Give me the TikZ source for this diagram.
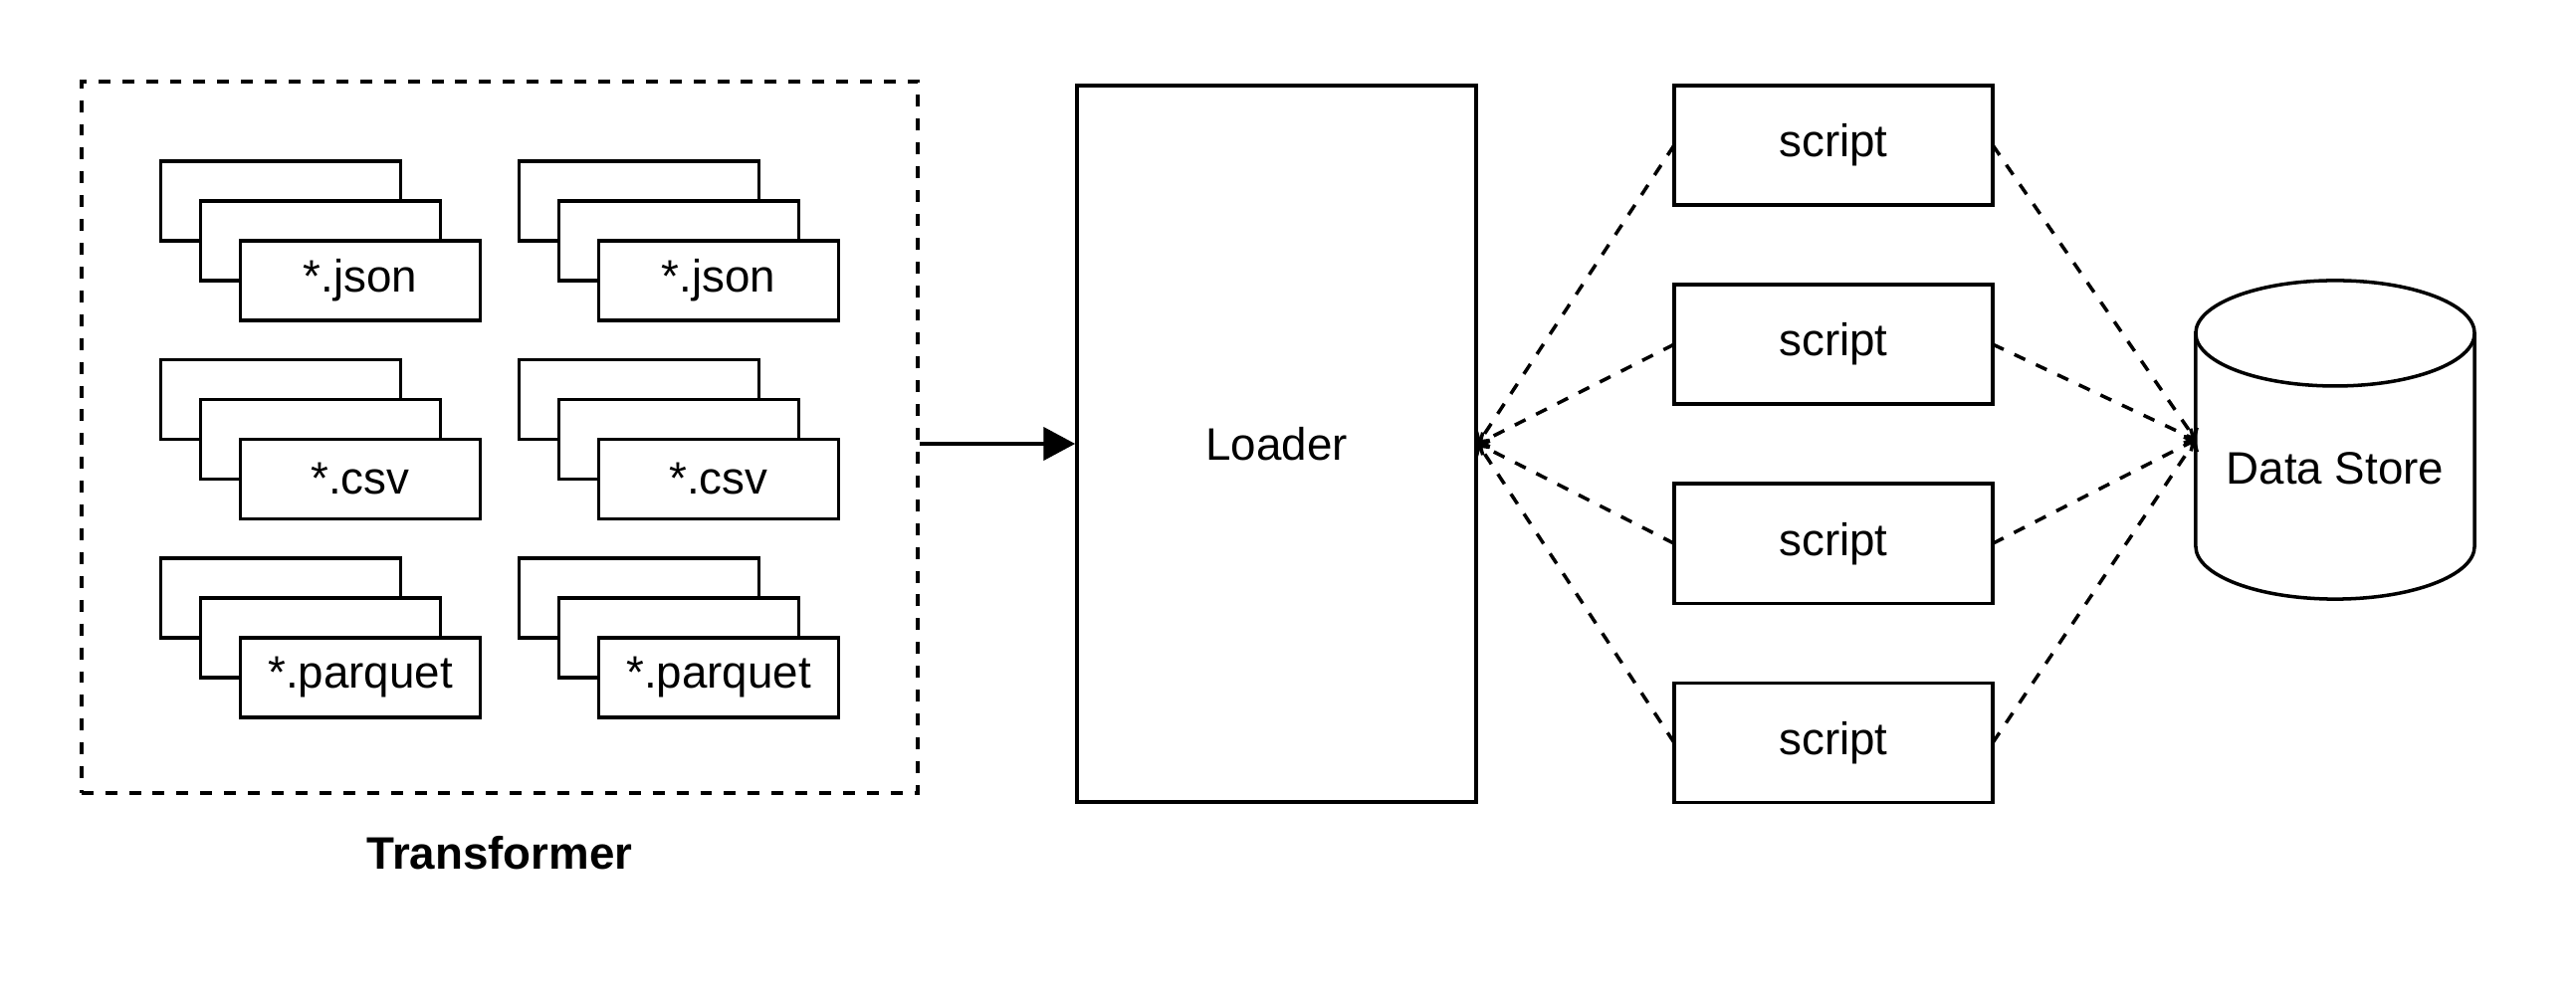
\documentclass[tikz,border=0pt]{standalone}
\usepackage{fontspec}
\setmainfont{Liberation Sans}
\usetikzlibrary{positioning}
\usetikzlibrary{arrows.meta}
\tikzstyle{frame} = [draw, dash pattern=on 3.4pt off 3.4pt, minimum width=8.4cm,
minimum height=7.15cm, inner sep=0pt]
\tikzstyle{filebox} = [draw, fill=white, minimum width=2.41cm, minimum height=0.8cm,
inner sep=0pt]
\tikzstyle{scriptbox} = [draw, minimum width=3.2cm, minimum height=1.2cm, inner sep=0pt,
outer sep=0pt]
\tikzstyle{loaderbox} = [draw, minimum width=4.01cm, minimum height=7.2cm, inner sep=0pt]
\tikzstyle{store} = [minimum width=2.8cm, minimum height=3.2cm, inner sep=0pt, outer sep=0pt]
\tikzstyle{link} = [dash pattern=on 3.4pt off 3.4pt,
-{Straight Barb[length=2pt,width=4.5pt]}]

\begin{document}
\begin{tikzpicture}[x=0.01cm, y=-0.01cm, line width=1pt,
  font=\fontsize{13}{15.6}\selectfont]
  \useasboundingbox (0,0) rectangle (2588,1004);
  \node[frame] (transformer) at (502,439.5) {};
  \node[font=\fontsize{13}{15.6}\selectfont\bfseries] (transformerlabel) at (502,857) {Transformer};
  \foreach \ext [count=\r from 0] in {json,csv,parquet}
    \foreach \c in {0,1} {
      \node[filebox] (back-\ext-\c) at (282+360*\c, 202+199.5*\r) {};
      \node[filebox] (middle-\ext-\c) at (322+360*\c, 242+199.5*\r) {};
      \node[filebox] (front-\ext-\c) at (362+360*\c, 282+199.5*\r) {*.\ext};
    }
  \node[loaderbox] (loader) at (1282.5,446) {Loader};
  \draw[-{Triangle[length=9pt,width=9.4pt]}] (transformer.east |- loader.west) -- (loader.west);
  \node[scriptbox] (script1) at (1842,146) {script};
  \node[scriptbox, below=0.8cm of script1] (script2) {script};
  \node[scriptbox, below=0.8cm of script2] (script3) {script};
  \node[scriptbox, below=0.8cm of script3] (script4) {script};
  \node[store] (store) at (2346,442) {};
  \draw[fill=white] ([yshift=-0.53cm]store.north west) -- ([yshift=0.53cm]store.south west)
    arc[start angle=180, end angle=360, x radius=1.4cm, y radius=0.53cm]
    -- ([yshift=-0.53cm]store.north east)
    arc[start angle=0, end angle=180, x radius=1.4cm, y radius=0.53cm] -- cycle;
  \draw ([yshift=-0.53cm]store.north west)
    arc[start angle=180, end angle=360, x radius=1.4cm, y radius=0.53cm];
  \node (storelabel) at ([yshift=-0.29cm]store.center) {Data Store};
  \foreach \i in {1,...,4} {
    \draw[link] (script\i.west) -- (loader.east);
    \draw[link] (script\i.east) -- (store.west);
  }
\end{tikzpicture}
\end{document}
